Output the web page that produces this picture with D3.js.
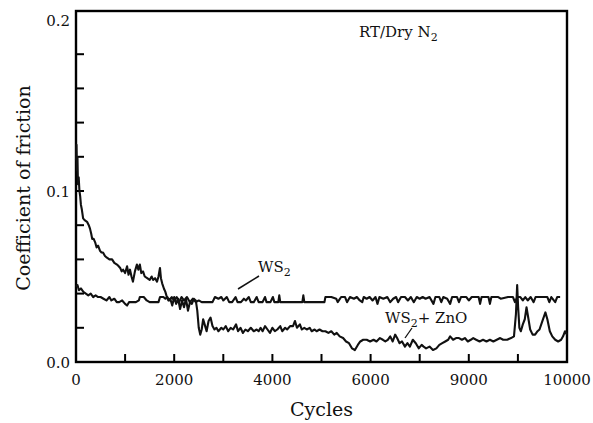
<!DOCTYPE html>
<html>
<head>
<meta charset="utf-8">
<script src="https://cdn.jsdelivr.net/npm/d3@7"></script>
<style>
  body { margin: 0; background: #fff; }
  text { font-family: "DejaVu Serif", serif; fill: #111; }
</style>
</head>
<body>
<svg id="chart" width="593" height="423"></svg>
<script>
// cycles, coefficient of friction
const ws2ZnO = [
  [0, 0.118], [10, 0.127], [20, 0.112], [30, 0.120], [40, 0.104], [55, 0.108], [70, 0.100], [85, 0.097],
  [100, 0.092], [120, 0.089], [145, 0.084], [175, 0.083], [225, 0.082], [260, 0.080], [285, 0.078],
  [310, 0.075], [330, 0.072], [360, 0.072], [390, 0.070], [420, 0.067], [450, 0.068], [490, 0.065],
  [520, 0.064], [550, 0.064], [590, 0.062], [630, 0.061], [680, 0.060], [735, 0.060], [780, 0.058],
  [835, 0.057], [870, 0.056], [900, 0.055], [930, 0.053], [960, 0.054], [1000, 0.052], [1040, 0.056],
  [1070, 0.051], [1100, 0.054], [1130, 0.050], [1160, 0.047], [1200, 0.053], [1240, 0.057], [1270, 0.054],
  [1300, 0.057], [1330, 0.052], [1365, 0.053], [1400, 0.050], [1450, 0.049], [1500, 0.048], [1540, 0.050],
  [1570, 0.048], [1610, 0.049], [1650, 0.047], [1680, 0.050], [1710, 0.055], [1730, 0.049], [1755, 0.046],
  [1790, 0.043], [1820, 0.041], [1850, 0.038], [1880, 0.036], [1920, 0.037], [1960, 0.033], [2000, 0.038],
  [2040, 0.034], [2080, 0.037], [2120, 0.031], [2160, 0.036], [2200, 0.032], [2240, 0.037], [2280, 0.030],
  [2320, 0.035], [2360, 0.034], [2400, 0.037], [2440, 0.036], [2470, 0.030], [2500, 0.020], [2530, 0.016],
  [2560, 0.019], [2590, 0.025], [2620, 0.022], [2660, 0.018], [2700, 0.024], [2740, 0.026], [2780, 0.021],
  [2820, 0.019], [2860, 0.020], [2900, 0.018], [2960, 0.020], [3000, 0.019], [3050, 0.021], [3100, 0.018],
  [3150, 0.020], [3200, 0.019], [3260, 0.022], [3300, 0.018], [3350, 0.020], [3400, 0.017], [3450, 0.019],
  [3500, 0.018], [3560, 0.020], [3620, 0.018], [3680, 0.019], [3720, 0.018], [3760, 0.020], [3800, 0.018],
  [3850, 0.021], [3900, 0.019], [3950, 0.017], [4000, 0.020], [4050, 0.018], [4100, 0.019], [4160, 0.021],
  [4200, 0.018], [4260, 0.020], [4300, 0.019], [4360, 0.021], [4420, 0.021], [4460, 0.024], [4500, 0.020],
  [4560, 0.022], [4600, 0.019], [4650, 0.020], [4700, 0.019], [4760, 0.020], [4800, 0.018], [4860, 0.019],
  [4900, 0.018], [4960, 0.019], [5020, 0.018], [5080, 0.018], [5140, 0.017], [5200, 0.018], [5260, 0.016],
  [5310, 0.017], [5370, 0.015], [5440, 0.014], [5500, 0.012], [5560, 0.011], [5620, 0.008], [5680, 0.007],
  [5740, 0.010], [5790, 0.012], [5850, 0.013], [5920, 0.013], [5990, 0.012], [6060, 0.013], [6120, 0.012],
  [6190, 0.014], [6250, 0.013], [6300, 0.012], [6350, 0.013], [6400, 0.015], [6450, 0.012], [6500, 0.016],
  [6540, 0.014], [6590, 0.011], [6640, 0.012], [6700, 0.009], [6750, 0.011], [6800, 0.009], [6860, 0.013],
  [6920, 0.011], [6980, 0.008], [7040, 0.010], [7080, 0.009], [7130, 0.008], [7200, 0.009], [7270, 0.007],
  [7340, 0.008], [7400, 0.010], [7460, 0.011], [7520, 0.012], [7580, 0.013], [7620, 0.015], [7680, 0.013],
  [7740, 0.014], [7800, 0.014], [7860, 0.013], [7920, 0.014], [7980, 0.012], [8040, 0.013], [8090, 0.014],
  [8150, 0.013], [8220, 0.012], [8290, 0.013], [8360, 0.012], [8430, 0.013], [8500, 0.012], [8570, 0.013],
  [8640, 0.014], [8700, 0.013], [8780, 0.013], [8860, 0.014], [8920, 0.015], [8960, 0.028], [8985, 0.045],
  [9005, 0.032], [9030, 0.020], [9060, 0.018], [9100, 0.022], [9140, 0.025], [9175, 0.032], [9210, 0.026],
  [9250, 0.019], [9300, 0.016], [9350, 0.016], [9400, 0.018], [9440, 0.019], [9500, 0.024], [9560, 0.029],
  [9600, 0.025], [9650, 0.018], [9700, 0.015], [9760, 0.013], [9820, 0.012], [9880, 0.013], [9920, 0.015],
  [9960, 0.018], [10000, 0.016]
];

const ws2 = [
  [0, 0.044], [30, 0.045], [60, 0.042], [100, 0.043], [150, 0.041], [200, 0.040], [250, 0.039], [300, 0.040],
  [350, 0.038], [400, 0.039], [450, 0.038], [500, 0.038], [560, 0.037], [620, 0.036], [680, 0.038], [720, 0.036],
  [780, 0.037], [830, 0.035], [880, 0.035], [940, 0.036], [1000, 0.034], [1040, 0.033], [1080, 0.035],
  [1150, 0.035], [1220, 0.035], [1280, 0.036], [1300, 0.038], [1380, 0.038], [1440, 0.036], [1500, 0.035],
  [1600, 0.035], [1680, 0.035], [1711, 0.038], [1780, 0.038], [1820, 0.037], [1860, 0.038], [1900, 0.036],
  [1950, 0.038], [2000, 0.036], [2050, 0.038], [2100, 0.035], [2150, 0.038], [2200, 0.036], [2260, 0.038],
  [2320, 0.035], [2380, 0.037], [2440, 0.035], [2500, 0.036], [2560, 0.035], [2640, 0.035], [2700, 0.035],
  [2780, 0.035], [2830, 0.038], [2900, 0.037], [2960, 0.038], [3000, 0.036], [3070, 0.038], [3120, 0.035],
  [3180, 0.035], [3250, 0.038], [3290, 0.035], [3360, 0.035], [3420, 0.037], [3460, 0.036], [3520, 0.038],
  [3560, 0.035], [3620, 0.035], [3680, 0.038], [3720, 0.035], [3800, 0.035], [3850, 0.038], [3880, 0.035],
  [3960, 0.035], [4010, 0.038], [4040, 0.035], [4120, 0.035], [4140, 0.039], [4160, 0.035], [4300, 0.035],
  [4450, 0.035], [4610, 0.035], [4630, 0.039], [4650, 0.035], [4800, 0.035], [4950, 0.035], [5060, 0.035],
  [5080, 0.038], [5200, 0.038], [5300, 0.037], [5330, 0.035], [5400, 0.038], [5480, 0.038], [5520, 0.035],
  [5580, 0.038], [5660, 0.037], [5720, 0.038], [5780, 0.036], [5830, 0.035], [5860, 0.038], [5920, 0.037],
  [5980, 0.038], [6040, 0.036], [6100, 0.038], [6140, 0.034], [6180, 0.038], [6260, 0.037], [6340, 0.038],
  [6400, 0.035], [6460, 0.037], [6520, 0.038], [6560, 0.035], [6620, 0.038], [6700, 0.038], [6760, 0.036],
  [6820, 0.038], [6880, 0.035], [6940, 0.038], [7000, 0.037], [7060, 0.038], [7120, 0.037], [7200, 0.038],
  [7280, 0.034], [7320, 0.038], [7400, 0.038], [7440, 0.035], [7480, 0.038], [7560, 0.037], [7620, 0.034],
  [7660, 0.038], [7700, 0.038], [7760, 0.038], [7800, 0.035], [7840, 0.038], [7950, 0.038], [8000, 0.036],
  [8060, 0.038], [8200, 0.038], [8230, 0.034], [8260, 0.038], [8400, 0.038], [8430, 0.034], [8460, 0.038],
  [8600, 0.038], [8650, 0.037], [8800, 0.038], [8900, 0.038], [8940, 0.035], [8990, 0.038], [9050, 0.038],
  [9100, 0.036], [9150, 0.038], [9200, 0.036], [9260, 0.038], [9320, 0.035], [9360, 0.038], [9600, 0.038],
  [9640, 0.035], [9680, 0.038], [9760, 0.035], [9800, 0.038], [9860, 0.038]
];

const xTicks = [1000, 2000, 3000, 4000, 5000, 6000, 7000, 8000, 9000];
const xLabelValues = [0, 2000, 4000, 6000, 8000, 10000];
const xLabelText = ["0", "2000", "4000", "6000", "9000", "10000"];
const yTicks = [0.02, 0.04, 0.06, 0.08, 0.1, 0.12, 0.14, 0.16, 0.18];
const yLabelValues = [0, 0.1, 0.2];
const yLabelText = ["0.0", "0.1", "0.2"];

const svg = d3.select('#chart');
const plotLeft = 76, plotRight = 567, plotTop = 11, plotBottom = 362;

const x = d3.scaleLinear().domain([0, 10000]).range([plotLeft, plotRight]);
const y = d3.scaleLinear().domain([0, 0.2]).range([plotBottom, 20]);

// frame
svg.append('rect')
  .attr('x', plotLeft).attr('y', plotTop)
  .attr('width', plotRight - plotLeft).attr('height', plotBottom - plotTop)
  .attr('fill', 'none').attr('stroke', '#000').attr('stroke-width', 2.4);

// inward tick marks
svg.selectAll('line.xtick').data(xTicks).enter().append('line')
  .attr('class', 'xtick')
  .attr('x1', d => x(d)).attr('x2', d => x(d))
  .attr('y1', plotBottom).attr('y2', plotBottom - 8)
  .attr('stroke', '#000').attr('stroke-width', 2);
svg.selectAll('line.ytick').data(yTicks).enter().append('line')
  .attr('class', 'ytick')
  .attr('x1', plotLeft).attr('x2', plotLeft + 8)
  .attr('y1', d => y(d)).attr('y2', d => y(d))
  .attr('stroke', '#000').attr('stroke-width', 2);

svg.selectAll('text.xlab').data(xLabelValues).enter().append('text')
  .attr('class', 'xlab')
  .attr('x', d => x(d)).attr('y', 385)
  .attr('text-anchor', 'middle').attr('font-size', 15)
  .text((d, i) => xLabelText[i]);

svg.selectAll('text.ylab').data(yLabelValues).enter().append('text')
  .attr('class', 'ylab')
  .attr('x', 70).attr('y', d => y(d) + 6)
  .attr('text-anchor', 'end').attr('font-size', 15)
  .text((d, i) => yLabelText[i]);

svg.append('text').attr('x', (plotLeft + plotRight) / 2).attr('y', 416)
  .attr('text-anchor', 'middle').attr('font-size', 19).text('Cycles');

svg.append('text')
  .attr('transform', 'translate(30,' + 188 + ') rotate(-90)')
  .attr('text-anchor', 'middle').attr('font-size', 19).text('Coefficient of friction');

const lineGen = d3.line().x(d => x(d[0])).y(d => y(d[1]));

[ws2, ws2ZnO].forEach(s => {
  svg.append('path').datum(s)
    .attr('d', lineGen)
    .attr('fill', 'none').attr('stroke', '#111')
    .attr('stroke-width', 2.1).attr('stroke-linejoin', 'round');
});

// annotations
const rt = svg.append('text').attr('x', 359).attr('y', 37).attr('font-size', 15);
rt.append('tspan').text('RT/Dry N');
rt.append('tspan').attr('font-size', 11).attr('dy', 4).text('2');

const l1 = svg.append('text').attr('x', 258).attr('y', 272).attr('font-size', 15);
l1.append('tspan').text('WS');
l1.append('tspan').attr('font-size', 11).attr('dy', 4).text('2');
svg.append('line').attr('x1', 238).attr('y1', 289).attr('x2', 259).attr('y2', 276)
  .attr('stroke', '#111').attr('stroke-width', 1.5);

const l2 = svg.append('text').attr('x', 385).attr('y', 323).attr('font-size', 15);
l2.append('tspan').text('WS');
l2.append('tspan').attr('font-size', 11).attr('dy', 4).text('2');
l2.append('tspan').attr('dy', -4).text('+ ZnO');
svg.append('line').attr('x1', 405).attr('y1', 338).attr('x2', 412).attr('y2', 328)
  .attr('stroke', '#111').attr('stroke-width', 1.3);
</script>
</body>
</html>
